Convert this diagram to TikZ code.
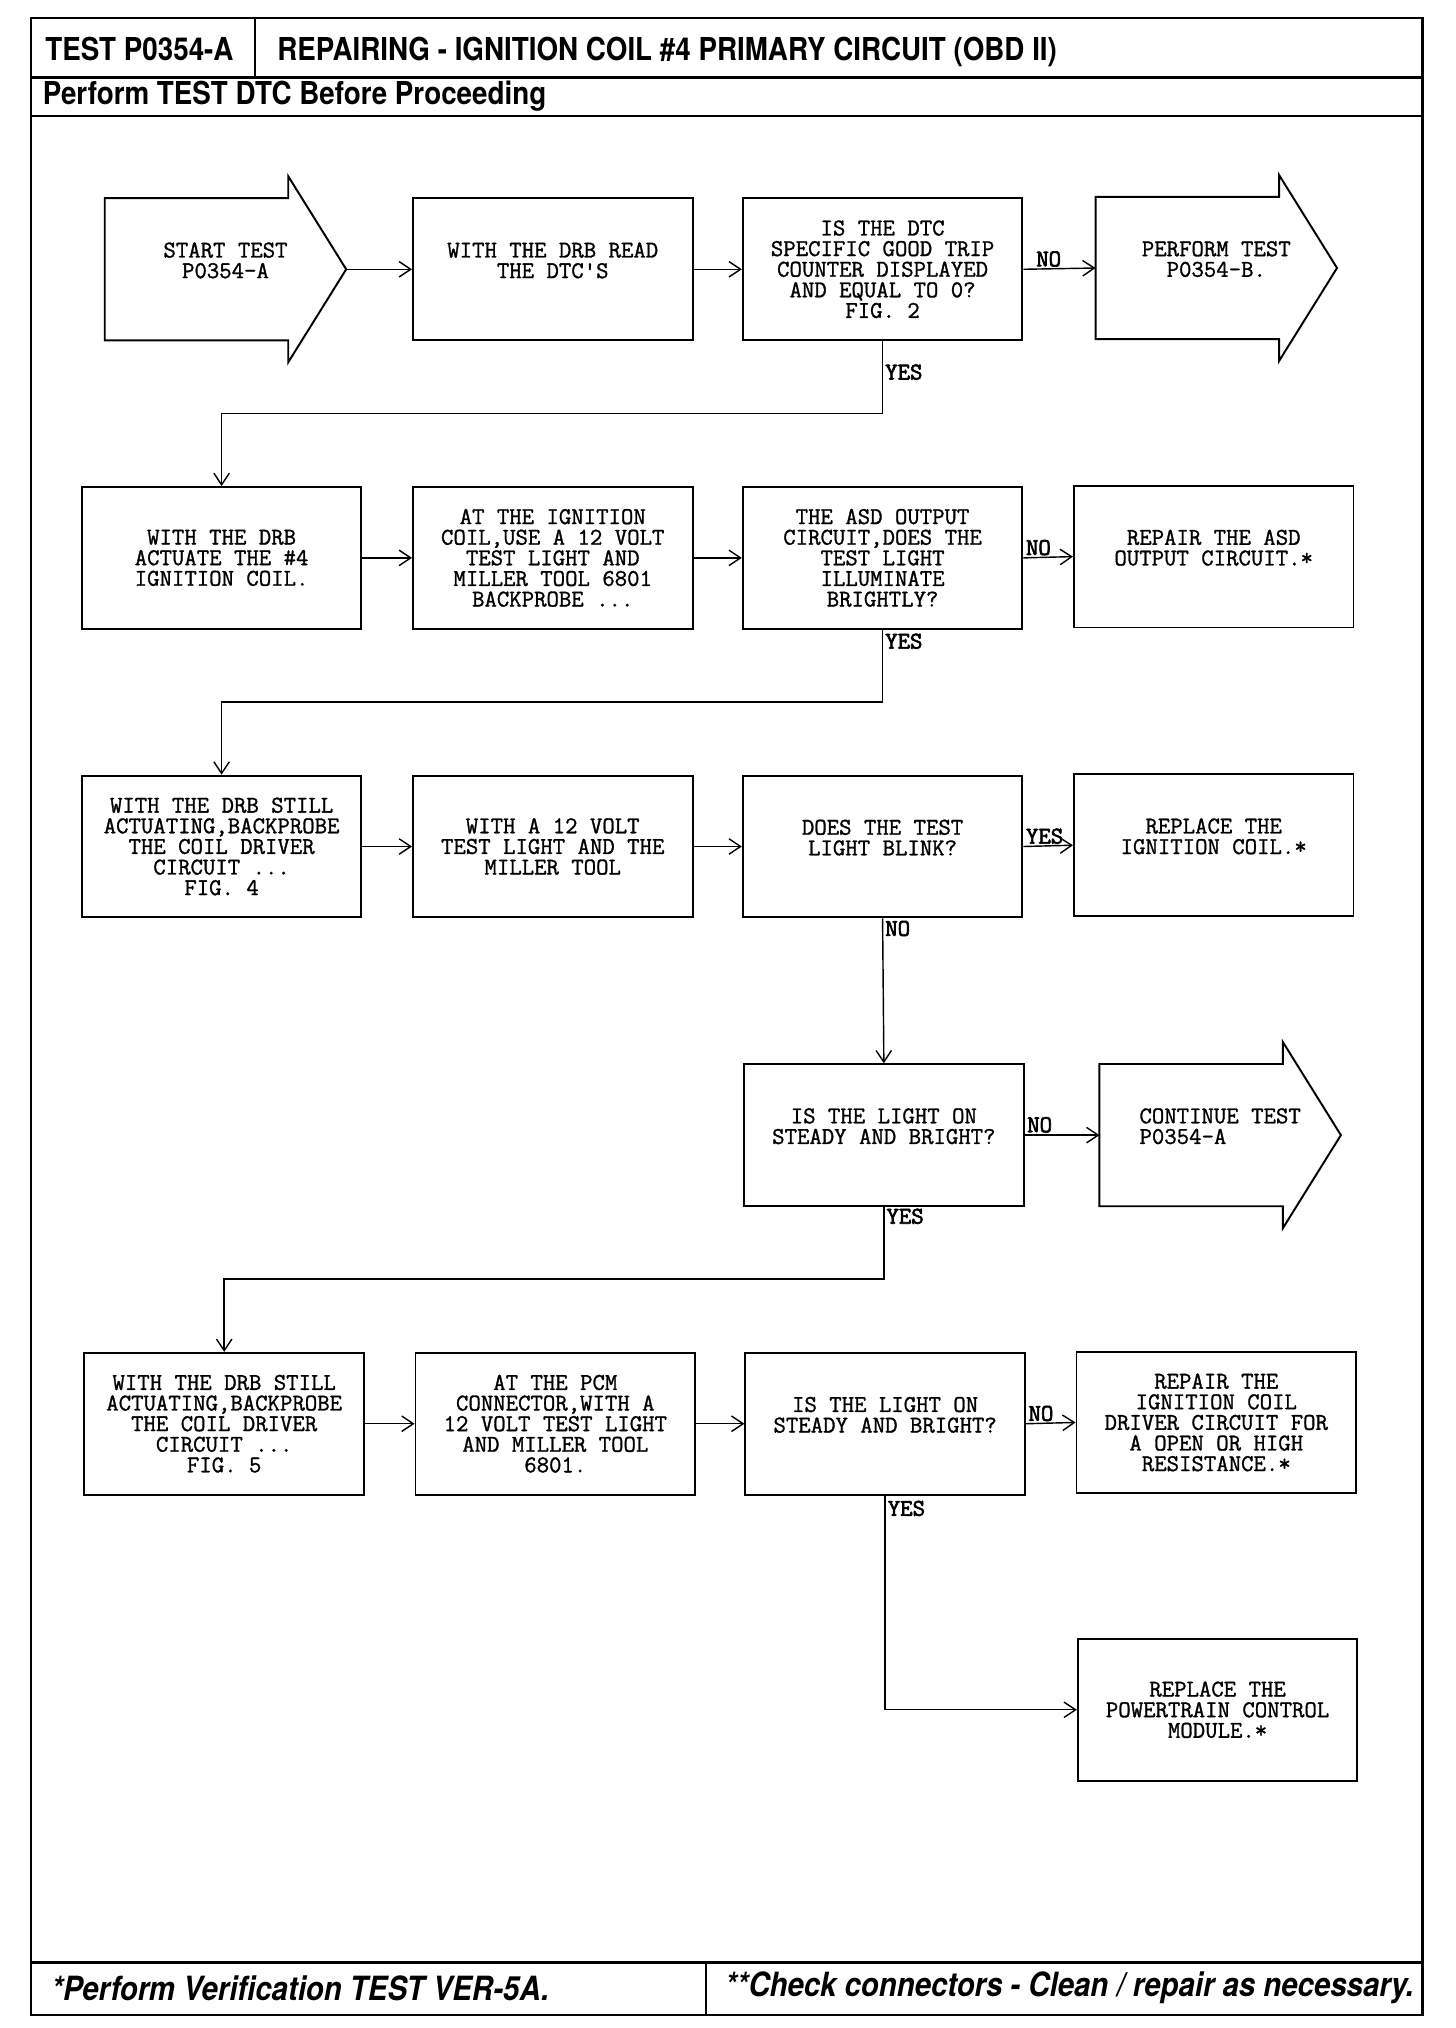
\documentclass[tikz,border=0pt]{standalone}
\usepackage{fontspec}
\newfontfamily\headfont[FakeStretch=0.88]{TeX Gyre Heros}
\newfontfamily\boxfont[FakeBold=1.2]{Latin Modern Mono}
\newfontfamily\answerfont[FakeBold=2.6]{Latin Modern Mono}
\usetikzlibrary{arrows.meta}
\tikzset{frame/.style={line width=2pt}}
\tikzset{boxline/.style={line width=1.5pt}}
\tikzset{testbox/.style={draw, boxline, minimum width=217pt, minimum height=110pt, inner sep=2pt, align=center, font=\boxfont\fontsize{18.7}{16}\selectfont}}
\tikzset{exitarrow/.style={minimum width=187pt, minimum height=110pt, inner sep=2pt, align=center, font=\boxfont\fontsize{18.7}{16}\selectfont}}
\tikzset{link/.style={line width=1.1pt, -{Straight Barb[length=9pt, width=12pt]}}}
\tikzset{answer/.style={inner sep=1.5pt, font=\answerfont\fontsize{18.7}{16}\selectfont}}
\tikzset{headtext/.style={anchor=west, inner sep=0pt, font=\headfont\bfseries\fontsize{24.5}{26}\selectfont}}
\tikzset{foottext/.style={anchor=west, inner sep=0pt, font=\headfont\bfseries\itshape\fontsize{25.9}{27}\selectfont}}
\newcommand{\boxpad}{\\[-2pt]\mbox{}}

\begin{document}
\begin{tikzpicture}[x=1pt, y=-1pt]
    \useasboundingbox (0, 0) rectangle (1130, 1574);
    % page frame
    \draw[frame] (24, 14) rectangle (1104, 1564);
    \draw[frame] (24, 60) -- (1104, 60);
    \draw[frame] (24, 90) -- (1104, 90);
    \draw[frame] (198, 14) -- (198, 60);
    \draw[frame] (24, 1523) -- (1104, 1523);
    \draw[frame] (548, 1523) -- (548, 1564);
    \node[headtext] (testid) at (35, 38) {TEST P0354-A};
    \node[headtext] (title) at (215, 40) {REPAIRING - IGNITION COIL \#4 PRIMARY CIRCUIT (OBD II)};
    \node[headtext] (proceed) at (33, 75) {Perform TEST DTC Before Proceeding};
    \node[foottext] (verify) at (40, 1543) {*Perform Verification TEST VER-5A.};
    \node[foottext] (check) at (563, 1543) {**Check connectors - Clean / repair as necessary.};

    % row 1
    \node[exitarrow] (start) at (175, 209) {START TEST\\ P0354-A\boxpad};
    \node[testbox] (read) at (429, 209) {WITH THE DRB READ\\THE DTC'S\boxpad};
    \node[testbox] (q1) at (685, 209) {IS THE DTC\\SPECIFIC GOOD TRIP\\COUNTER DISPLAYED\\AND EQUAL TO 0?\\FIG. 2};
    \node[exitarrow] (performB) at (944, 208) {PERFORM TEST\\P0354-B.\boxpad};
    % row 2
    \node[testbox] (act) at (172, 433) {WITH THE DRB\\ACTUATE THE \#4\\IGNITION COIL.};
    \node[testbox] (ign) at (429, 433) {AT THE IGNITION\\COIL,USE A 12 VOLT\\TEST LIGHT AND\\MILLER TOOL 6801\\BACKPROBE ...};
    \node[testbox] (q2) at (685, 433) {THE ASD OUTPUT\\CIRCUIT,DOES THE\\TEST LIGHT\\ILLUMINATE\\BRIGHTLY?};
    \node[testbox] (repairASD) at (942, 432) {REPAIR THE ASD\\OUTPUT CIRCUIT.*\boxpad};
    % row 3
    \node[testbox] (still1) at (172, 657) {WITH THE DRB STILL\\ACTUATING,BACKPROBE\\THE COIL DRIVER\\CIRCUIT ...\\FIG. 4};
    \node[testbox] (volt) at (429, 657) {WITH A 12 VOLT\\TEST LIGHT AND THE\\MILLER TOOL};
    \node[testbox] (q3) at (685, 657) {DOES THE TEST\\LIGHT BLINK?\boxpad};
    \node[testbox] (replaceCoil) at (942, 656) {REPLACE THE\\IGNITION COIL.*\boxpad};
    % row 4
    \node[testbox] (q4) at (686, 881) {IS THE LIGHT ON\\STEADY AND BRIGHT?\boxpad};
    \node[exitarrow, align=left] (continue) at (947, 881) {CONTINUE TEST\\P0354-A\boxpad};
    % row 5
    \node[testbox] (still2) at (174, 1105) {WITH THE DRB STILL\\ACTUATING,BACKPROBE\\THE COIL DRIVER\\CIRCUIT ...\\FIG. 5};
    \node[testbox] (pcm) at (431, 1105) {AT THE PCM\\CONNECTOR,WITH A\\12 VOLT TEST LIGHT\\AND MILLER TOOL\\6801.};
    \node[testbox] (q5) at (687, 1105) {IS THE LIGHT ON\\STEADY AND BRIGHT?\boxpad};
    \node[testbox] (repairDriver) at (944, 1104) {REPAIR THE\\IGNITION COIL\\DRIVER CIRCUIT FOR\\A OPEN OR HIGH\\RESISTANCE.*};
    \node[testbox] (replacePCM) at (945, 1327) {REPLACE THE\\POWERTRAIN CONTROL\\MODULE.*};

    % outline of the exit arrows
    \foreach \n in {start, performB, continue} {
        \draw[boxline] (\n.north west) -- ([xshift=-45pt]\n.north east) -- ([xshift=-45pt, yshift=17pt]\n.north east)
            -- (\n.east) -- ([xshift=-45pt, yshift=-17pt]\n.south east) -- ([xshift=-45pt]\n.south east) -- (\n.south west) -- cycle;
    }

    % connectors
    \draw[link] (start.east) -- (read.west);
    \draw[link] (read.east) -- (q1.west);
    \draw[link] (q1.east) -- node[answer, above right, pos=0, xshift=8pt] {NO} (performB.west);
    \draw[link] (q1.south) -- node[answer, right, pos=0.43] {YES} ++(0, 56) -| (act.north);
    \draw[link] (act.east) -- (ign.west);
    \draw[link] (ign.east) -- (q2.west);
    \draw[link] (q2.east) -- node[answer, above right, pos=0] {NO} (repairASD.west);
    \draw[link] (q2.south) -- node[answer, right, pos=0.16] {YES} ++(0, 56) -| (still1.north);
    \draw[link] (still1.east) -- (volt.west);
    \draw[link] (volt.east) -- (q3.west);
    \draw[link] (q3.east) -- node[answer, above right, pos=0] {YES} (replaceCoil.west);
    \draw[link] (q3.south) -- node[answer, right, pos=0.07] {NO} (q4.north);
    \draw[link] (q4.east) -- node[answer, above right, pos=0] {NO} (continue.west);
    \draw[link] (q4.south) -- node[answer, right, pos=0.13] {YES} ++(0, 56) -| (still2.north);
    \draw[link] (still2.east) -- (pcm.west);
    \draw[link] (pcm.east) -- (q5.west);
    \draw[link] (q5.east) -- node[answer, above right, pos=0] {NO} (repairDriver.west);
    \draw[link] (q5.south) |- node[answer, right, pos=0.03] {YES} (replacePCM.west);
\end{tikzpicture}
\end{document}
